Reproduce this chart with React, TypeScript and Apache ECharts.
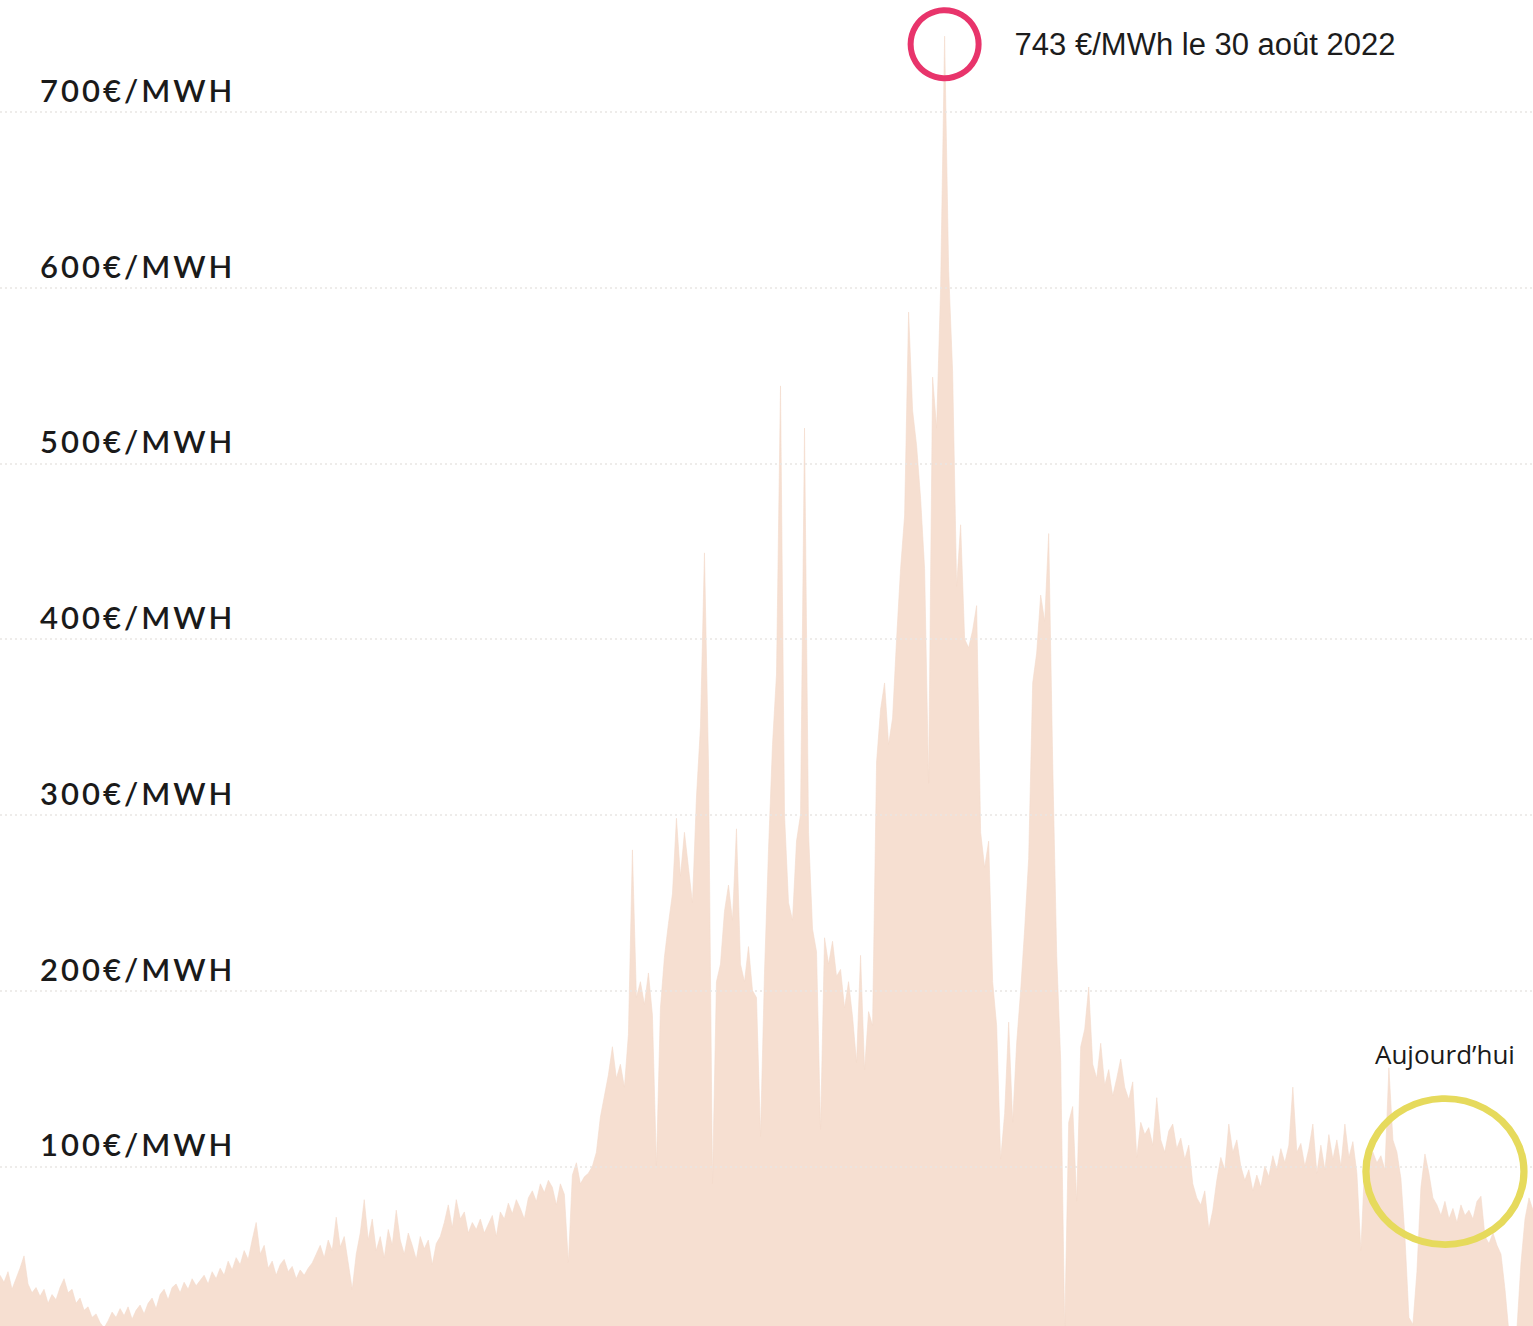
import React, { useEffect, useRef } from "react";
import * as echarts from "echarts";

// Daily-ish French spot electricity price (€/MWh), one value every STEP_DAYS days
const START_DATE = "2020-01-29";
const STEP_DAYS = 4;

const prices: number[] = [
  38, 34, 40, 30, 36, 42, 49, 33, 28, 31,
  26, 30, 22, 27, 24, 31, 36, 28, 30, 22,
  25, 18, 20, 14, 16, 11, 8, 12, 17, 14,
  19, 15, 20, 13, 18, 21, 16, 22, 25, 19,
  27, 30, 24, 31, 33, 28, 34, 30, 36, 32,
  35, 38, 33, 40, 36, 42, 38, 46, 41, 48,
  44, 52, 47, 58, 68, 50, 55, 42, 46, 38,
  44, 47, 40, 43, 36, 41, 38, 42, 45, 50,
  55, 48, 58, 52, 71, 54, 60, 45, 30, 50,
  62, 81, 58, 70, 52, 60, 48, 64, 55, 75,
  58, 50, 62, 55, 47, 60, 53, 58, 44, 56,
  60, 68, 78, 65, 81, 70, 74, 62, 68, 64,
  70, 62, 67, 72, 60, 74, 70, 79, 73, 81,
  76, 70, 82, 86, 80, 90, 85, 92, 88, 78,
  90, 84, 45, 95, 102, 90, 94, 96, 100, 108,
  128, 140, 152, 168, 150, 158, 145, 175, 280, 196,
  205, 192, 210, 186, 100, 190, 219, 238, 255, 298,
  265, 290, 270, 250, 310, 350, 449, 330, 90, 205,
  215, 245, 260, 240, 292, 215, 205, 225, 200, 196,
  117, 210, 280, 340, 380, 544, 300, 250, 240, 285,
  300, 520, 290, 235, 222, 121, 230, 215, 228, 208,
  212, 190, 205, 185, 159, 220, 155, 188, 180, 330,
  360, 375, 340, 355, 400, 440, 470, 586, 530, 510,
  480, 440, 318, 549, 520, 600, 743, 610, 552, 430,
  465, 400, 395, 405, 419, 290, 270, 285, 205, 180,
  104, 130, 182, 125, 170, 200, 235, 275, 375, 392,
  425, 410, 460, 330, 220, 160, 6, 125, 134, 80,
  168, 178, 202, 158, 150, 170, 146, 155, 140, 150,
  161, 145, 138, 148, 105, 125, 118, 122, 112, 139,
  115, 108, 120, 124, 110, 116, 104, 112, 90, 82,
  78, 86, 64, 75, 92, 105, 98, 124, 108, 115,
  100, 92, 98, 86, 95, 88, 100, 94, 106, 98,
  110, 102, 112, 145, 108, 113, 100, 110, 124, 96,
  112, 98, 118, 104, 115, 100, 124, 105, 114, 96,
  52, 104, 100, 108, 102, 106, 98, 156, 115, 108,
  93, 60, 14, 10, 40, 88, 107, 96, 82, 78,
  72, 80, 70, 76, 68, 78, 72, 75, 70, 80,
  83, 60, 56, 62, 55, 50, 30, 5, 4, 8, 45, 70, 82, 75,
];

const Y_MIN = 0;
const Y_MAX = 800; // the 800 line sits just above the visible page
const Y_STEP = 100;
const UNIT = "€/MWH";

const PEAK_INDEX = 236;
const PEAK_VALUE = 743;
const PEAK_LABEL = "743 €/MWh le 30 août 2022";

const TODAY_INDEX = 361;
const TODAY_VALUE = 97;
const TODAY_LABEL = "Aujourd’hui";

function buildDates(): string[] {
  const [y, m, d] = START_DATE.split("-").map(Number);
  const t0 = Date.UTC(y, m - 1, d);
  return prices.map((_, i) => new Date(t0 + i * STEP_DAYS * 86400000).toISOString().slice(0, 10));
}

export default function App() {
  const ref = useRef<HTMLDivElement>(null);

  useEffect(() => {
    if (!ref.current) return;
    const chart = echarts.init(ref.current, undefined, { renderer: "svg" });
    const dates = buildDates();
    chart.setOption({
      animation: false,
      backgroundColor: "#ffffff",
      grid: { left: 0, right: 0, top: 0, bottom: 8 },
      xAxis: {
        type: "category",
        data: dates,
        boundaryGap: false,
        show: false,
      },
      yAxis: {
        type: "value",
        min: Y_MIN,
        max: Y_MAX,
        interval: Y_STEP,
        z: 5,
        axisLine: { show: false },
        axisTick: { show: false },
        splitLine: {
          lineStyle: { color: "#e9e6e4", type: [2, 3], width: 1.5 },
        },
        axisLabel: {
          inside: true,
          margin: 40,
          align: "left",
          verticalAlign: "bottom",
          lineHeight: 44,
          showMinLabel: false,
          showMaxLabel: false,
          formatter: (v: number) => `${v}${UNIT}`,
          color: "#1a1a1a",
          fontFamily: "Lato",
          fontWeight: 600,
          fontSize: 31,
        },
      },
      series: [
        {
          type: "line",
          data: prices,
          symbol: "none",
          showSymbol: false,
          z: 2,
          lineStyle: { width: 0.6, color: "#f4dacb" },
          areaStyle: { color: "#f6dfd1", opacity: 1 },
          markPoint: {
            silent: true,
            data: [
              {
                coord: [dates[PEAK_INDEX], PEAK_VALUE],
                symbol: "circle",
                symbolSize: 68,
                symbolOffset: [0, 8],
                itemStyle: { color: "rgba(0,0,0,0)", borderColor: "#e8346b", borderWidth: 6 },
                label: {
                  show: true,
                  position: "right",
                  distance: 33,
                  formatter: PEAK_LABEL,
                  color: "#1c1c1c",
                  fontSize: 31,
                  fontFamily: "Liberation Sans",
                },
              },
              {
                coord: [dates[TODAY_INDEX], TODAY_VALUE],
                symbol: "circle",
                symbolSize: [158, 146],
                itemStyle: { color: "rgba(0,0,0,0)", borderColor: "#e6da5c", borderWidth: 7 },
                label: {
                  show: true,
                  position: "top",
                  distance: 28,
                  formatter: TODAY_LABEL,
                  color: "#1a1a1a",
                  fontSize: 26,
                  fontWeight: 500,
                  fontFamily: "Open Sans",
                },
              },
            ],
          },
        },
      ],
    });
    return () => chart.dispose();
  }, []);

  return (
    <div style={{ position: "fixed", left: 0, top: 0, width: 1533, height: 1326, overflow: "hidden", background: "#fff" }}>
      <style>{`text[style*="Lato"]{letter-spacing:3px;}`}</style>
      <div ref={ref} style={{ position: "absolute", left: 0, top: -64, width: 1533, height: 1414 }} />
    </div>
  );
}
